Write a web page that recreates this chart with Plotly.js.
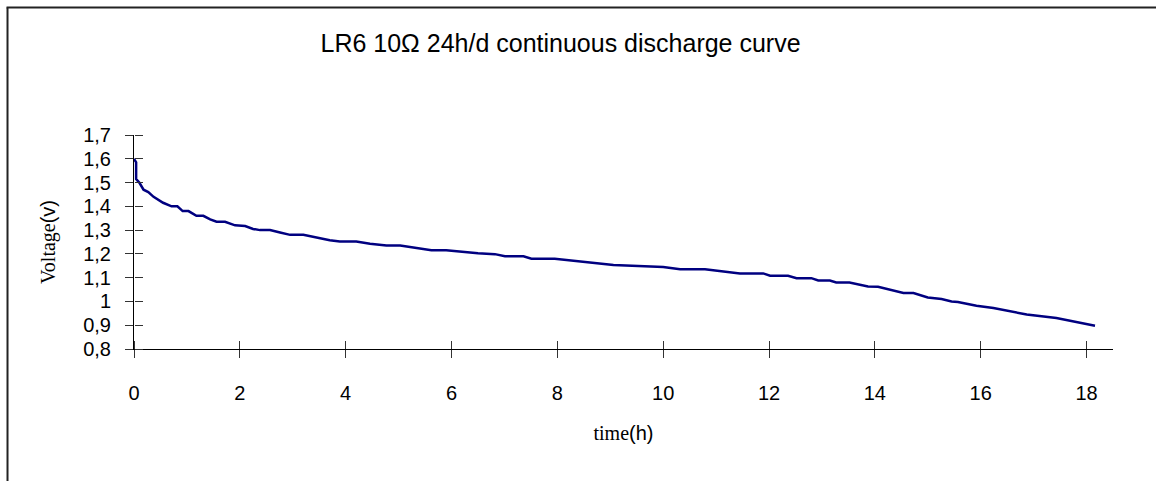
<!DOCTYPE html>
<html>
<head>
<meta charset="utf-8">
<script src="https://cdn.plot.ly/plotly-3.0.1.min.js"></script>
<style>
html,body{margin:0;padding:0;background:#fff;}
#chart{width:1156px;height:481px;}
</style>
</head>
<body>
<div id="chart"></div>
<script>
// Data
const timeHours = [0, 0.04, 0.04, 0.1, 0.18, 0.27, 0.37, 0.55, 0.71, 0.82, 0.92, 1.03, 1.18, 1.31, 1.44, 1.56, 1.72, 1.91, 2.10, 2.25, 2.38, 2.57, 2.76, 2.95, 3.2, 3.45, 3.7, 3.89, 4.2, 4.46, 4.77, 5.03, 5.34, 5.62, 5.9, 6.22, 6.5, 6.82, 7.01, 7.36, 7.51, 7.95, 8.49, 9.06, 10.0, 10.32, 10.79, 11.45, 11.89, 12.02, 12.36, 12.52, 12.80, 12.93, 13.15, 13.27, 13.52, 13.87, 14.06, 14.54, 14.73, 15.0, 15.26, 15.45, 15.57, 15.92, 16.24, 16.87, 17.43, 18.16];
const voltageV = [1.60, 1.585, 1.515, 1.50, 1.47, 1.46, 1.44, 1.415, 1.40, 1.40, 1.38, 1.38, 1.36, 1.36, 1.345, 1.335, 1.335, 1.32, 1.317, 1.305, 1.30, 1.30, 1.29, 1.28, 1.28, 1.268, 1.257, 1.252, 1.252, 1.243, 1.235, 1.235, 1.225, 1.215, 1.215, 1.207, 1.203, 1.199, 1.19, 1.19, 1.18, 1.18, 1.167, 1.153, 1.145, 1.135, 1.135, 1.118, 1.118, 1.108, 1.108, 1.098, 1.098, 1.088, 1.088, 1.08, 1.08, 1.063, 1.062, 1.036, 1.035, 1.017, 1.01, 1.0, 0.998, 0.982, 0.972, 0.945, 0.93, 0.898];

const chartTitle = 'LR6 10Ω 24h/d continuous discharge curve';
const xTitle = 'time<span style="font-family:\'Liberation Sans\', Arial">(h)</span>';
const yTitle = 'Voltage<span style="font-family:\'Liberation Sans\', Arial">(v)</span>';
const xRange = [0, 18.5];
const yRange = [0.8, 1.7];

const sans = "'Liberation Sans', Arial, sans-serif";
const serif = "'Liberation Serif', 'Times New Roman', serif";

const traces = [
  {
    x: timeHours, y: voltageV, type: 'scatter', mode: 'lines',
    line: {color: '#000080', width: 2.5, shape: 'linear'},
    hoverinfo: 'x+y', showlegend: false
  },
  {
    x: timeHours, y: voltageV, type: 'scatter', mode: 'lines',
    xaxis: 'x2', yaxis: 'y2',
    line: {color: 'rgba(0,0,0,0)', width: 0},
    hoverinfo: 'skip', showlegend: false
  }
];

const axisCommon = {
  showgrid: false, zeroline: false, showline: true,
  linecolor: '#000', linewidth: 1, tickcolor: '#333', tickwidth: 1,
  fixedrange: true
};

const layout = {
  width: 1156, height: 481,
  margin: {l: 134, r: 43, t: 135, b: 132, pad: 0},
  paper_bgcolor: '#fff', plot_bgcolor: '#fff',
  separators: ', ',
  showlegend: false,
  title: {
    text: chartTitle,
    font: {family: sans, size: 25, color: '#000'},
    x: 0.4357, xref: 'paper', xanchor: 'center',
    y: 0.9106, yref: 'container', yanchor: 'middle'
  },
  xaxis: Object.assign({}, axisCommon, {
    range: xRange, dtick: 2, tick0: 0,
    ticks: 'outside', ticklen: 8,
    ticklabelstandoff: 18,
    tickfont: {family: sans, size: 20, color: '#000'},
    title: {text: xTitle, font: {family: serif, size: 20, color: '#000'}, standoff: 22}
  }),
  yaxis: Object.assign({}, axisCommon, {
    range: yRange, dtick: 0.1, tick0: 0.8,
    ticks: 'outside', ticklen: 8,
    ticklabelstandoff: 10,
    tickfont: {family: sans, size: 20, color: '#000'},
    title: {text: yTitle, font: {family: serif, size: 20, color: '#000'}, standoff: 22}
  }),
  xaxis2: Object.assign({}, axisCommon, {
    overlaying: 'x', anchor: 'free', position: 0, side: 'top',
    range: xRange, dtick: 2, tick0: 0,
    ticks: 'outside', ticklen: 8, showticklabels: false, showline: false
  }),
  yaxis2: Object.assign({}, axisCommon, {
    overlaying: 'y', anchor: 'free', position: 0, side: 'right',
    range: yRange, dtick: 0.1, tick0: 0.8,
    ticks: 'outside', ticklen: 8, showticklabels: false, showline: false
  }),
  shapes: [
    {type: 'line', xref: 'paper', yref: 'paper', x0: -0.1292, x1: -0.1292, y0: 1.596, y1: -0.7,
     line: {color: '#222', width: 2}},
    {type: 'line', xref: 'paper', yref: 'paper', x0: -0.1302, x1: 1.1, y0: 1.596, y1: 1.596,
     line: {color: '#222', width: 2}}
  ]
};

Plotly.newPlot('chart', traces, layout, {displayModeBar: false, staticPlot: true});
</script>
</body>
</html>
